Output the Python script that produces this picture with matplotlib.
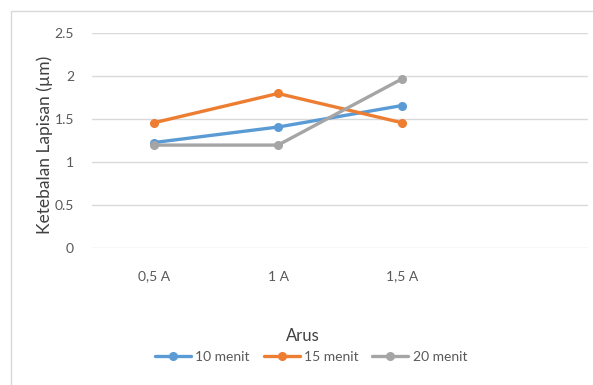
import matplotlib.pyplot as plt
from matplotlib.patches import Rectangle

# data
categories = ['0,5 A', '1 A', '1,5 A']
menit_10 = [1.23, 1.41, 1.66]
menit_15 = [1.46, 1.80, 1.46]
menit_20 = [1.20, 1.20, 1.97]
series_names = ['10 menit', '15 menit', '20 menit']
colors = ['#5B9BD5', '#ED7D31', '#A5A5A5']
yticks = [0, 0.5, 1, 1.5, 2, 2.5]

plt.rcParams['font.family'] = ['Lato', 'DejaVu Sans']
txt = '#595959'

fig = plt.figure(figsize=(5.93, 3.85), dpi=100)
# chart frame
fig.patches.append(Rectangle((11/593, -0.1), 1.2, 1 - 11/385 + 0.1, transform=fig.transFigure,
                             fill=False, edgecolor='#D9D9D9', lw=1))

ax = fig.add_axes([92/593, 1 - 248.3/385, (588 - 92)/593, (248.3 - 33.3)/385])
x = list(range(len(categories)))
for vals, name, c in zip([menit_10, menit_15, menit_20], series_names, colors):
    ax.plot(x, vals, color=c, lw=2.4, marker='o', ms=5.5, label=name, solid_capstyle='round')

ax.set_xlim(-0.5, 3.5)
ax.set_ylim(0, 2.5)
ax.set_yticks(yticks)
ax.set_yticklabels(['0', '0.5', '1', '1.5', '2', '2.5'])
ax.set_xticks(x)
ax.set_xticklabels(categories)
ax.tick_params(length=0, colors=txt, labelsize=10)
ax.tick_params(axis='y', pad=13)
ax.tick_params(axis='x', pad=16)
ax.grid(axis='y', color='#D9D9D9', lw=1)
ax.set_axisbelow(True)
for s in ax.spines.values():
    s.set_visible(False)

ax.set_ylabel('Ketebalan Lapisan (µm)', color='#404040', fontsize=12.5)
ax.yaxis.set_label_coords(-0.078, 0.48)
fig.text(303/593, 1 - 336/385, 'Arus', ha='center', va='center', color='#404040', fontsize=12)

leg = ax.legend(loc='center', bbox_to_anchor=(311/593, 1 - 357/385), bbox_transform=fig.transFigure,
                ncol=3, frameon=False, fontsize=10, handlelength=2.6, columnspacing=1.0,
                handletextpad=0.3)
for t in leg.get_texts():
    t.set_color(txt)

fig.savefig('out.png', dpi=100)
